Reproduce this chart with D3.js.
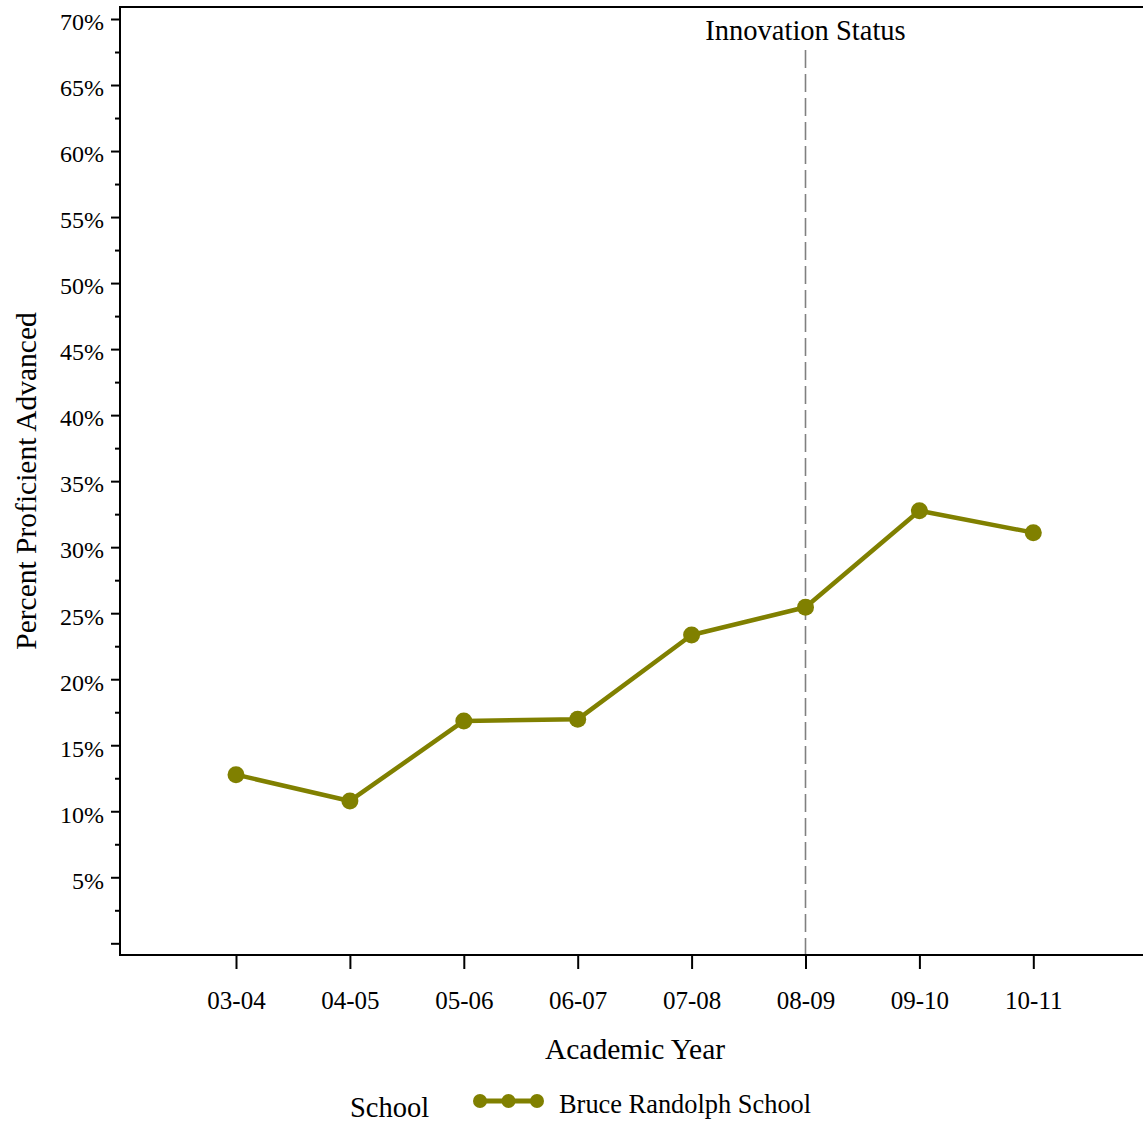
<!DOCTYPE html>
<html>
<head>
<meta charset="utf-8">
<script src="https://cdn.jsdelivr.net/npm/d3@7"></script>
<style>
  html, body { margin: 0; padding: 0; background: #fff; }
  svg { display: block; font-family: "Liberation Serif", "Times New Roman", serif; }
</style>
</head>
<body>
<svg id="chart" width="1143" height="1124"></svg>
<script>
const years = ["03-04", "04-05", "05-06", "06-07", "07-08", "08-09", "09-10", "10-11"];
const values = [12.77, 10.78, 16.84, 16.96, 23.35, 25.45, 32.76, 31.10];
const seriesName = "Bruce Randolph School";
const yMajorTicks = [0, 5, 10, 15, 20, 25, 30, 35, 40, 45, 50, 55, 60, 65, 70];
const yMinorTicks = [2.5, 7.5, 12.5, 17.5, 22.5, 27.5, 32.5, 37.5, 42.5, 47.5, 52.5, 57.5, 62.5, 67.5];
const innovationYear = "08-09";
const innovationLabel = "Innovation Status";

(function () {
const color = "#808000";
const svg = d3.select("#chart");

const pL = 120, pT = 7, pB = 955, pR = 1143;
const x = d3.scaleLinear().domain([0, years.length - 1]).range([236, 1033.3]);
const y = d3.scaleLinear().domain([0, 70]).range([943.3, 19]);

// frame: top, left and bottom lines
svg.append("line").attr("x1", pL).attr("x2", pR).attr("y1", pT).attr("y2", pT)
  .attr("stroke", "#000").attr("stroke-width", 2);
svg.append("line").attr("x1", pL).attr("x2", pL).attr("y1", pT - 1).attr("y2", pB + 1)
  .attr("stroke", "#000").attr("stroke-width", 2);
svg.append("line").attr("x1", pL - 1).attr("x2", pR).attr("y1", pB).attr("y2", pB)
  .attr("stroke", "#000").attr("stroke-width", 2);

// y axis major
const yAxis = d3.axisLeft(y).tickValues(yMajorTicks).tickSize(9).tickPadding(6)
  .tickFormat(d => d === 0 ? "" : d + "%");
const gy = svg.append("g").attr("transform", `translate(${pL},0)`).call(yAxis);
gy.select(".domain").remove();
gy.selectAll(".tick line").attr("stroke", "#000").attr("stroke-width", 2);
gy.selectAll(".tick text").attr("font-family", "Liberation Serif").attr("font-size", 24)
  .attr("fill", "#000").attr("dy", "0.45em").attr("x", -16);
// y axis minor
const yMinor = d3.axisLeft(y).tickValues(yMinorTicks).tickSize(5).tickFormat("");
const gym = svg.append("g").attr("transform", `translate(${pL},0)`).call(yMinor);
gym.select(".domain").remove();
gym.selectAll(".tick line").attr("stroke", "#000").attr("stroke-width", 2);

// x axis
const xAxis = d3.axisBottom(x).tickValues(d3.range(years.length)).tickSize(14).tickPadding(22)
  .tickFormat(i => years[i]);
const gx = svg.append("g").attr("transform", `translate(0,${pB})`).call(xAxis);
gx.select(".domain").remove();
gx.selectAll(".tick line").attr("stroke", "#000").attr("stroke-width", 2);
gx.selectAll(".tick text").attr("font-family", "Liberation Serif").attr("font-size", 25)
  .attr("fill", "#000");

// axis titles
svg.append("text").attr("x", 635).attr("y", 1059).attr("text-anchor", "middle")
  .attr("font-size", 29.5).text("Academic Year");
svg.append("text").attr("transform", "translate(36,481) rotate(-90)").attr("text-anchor", "middle")
  .attr("font-size", 29.5).text("Percent Proficient Advanced");

// innovation reference line
const xi = x(years.indexOf(innovationYear));
svg.append("line").attr("x1", xi).attr("x2", xi).attr("y1", 50).attr("y2", pB - 1)
  .attr("stroke", "#808080").attr("stroke-width", 1.6).attr("stroke-dasharray", "18,6");
svg.append("text").attr("x", xi).attr("y", 40).attr("text-anchor", "middle")
  .attr("font-size", 28.5).text(innovationLabel);

// series
const line = d3.line().x((d, i) => x(i)).y(d => y(d));
svg.append("path").datum(values).attr("d", line).attr("fill", "none")
  .attr("stroke", color).attr("stroke-width", 4.5).attr("stroke-linejoin", "round");
svg.selectAll("circle.pt").data(values).enter().append("circle").attr("class", "pt")
  .attr("cx", (d, i) => x(i)).attr("cy", d => y(d)).attr("r", 8.5).attr("fill", color);

// legend
svg.append("text").attr("x", 350).attr("y", 1117).attr("font-size", 28.5).text("School");
const legY = 1101;
svg.append("line").attr("x1", 480).attr("x2", 537).attr("y1", legY).attr("y2", legY)
  .attr("stroke", color).attr("stroke-width", 5);
svg.selectAll("circle.leg").data([480, 508.5, 537]).enter().append("circle").attr("class", "leg")
  .attr("cx", d => d).attr("cy", legY).attr("r", 7).attr("fill", color);
svg.append("text").attr("x", 559).attr("y", 1113).attr("font-size", 26.4).text(seriesName);
})();
</script>
</body>
</html>
